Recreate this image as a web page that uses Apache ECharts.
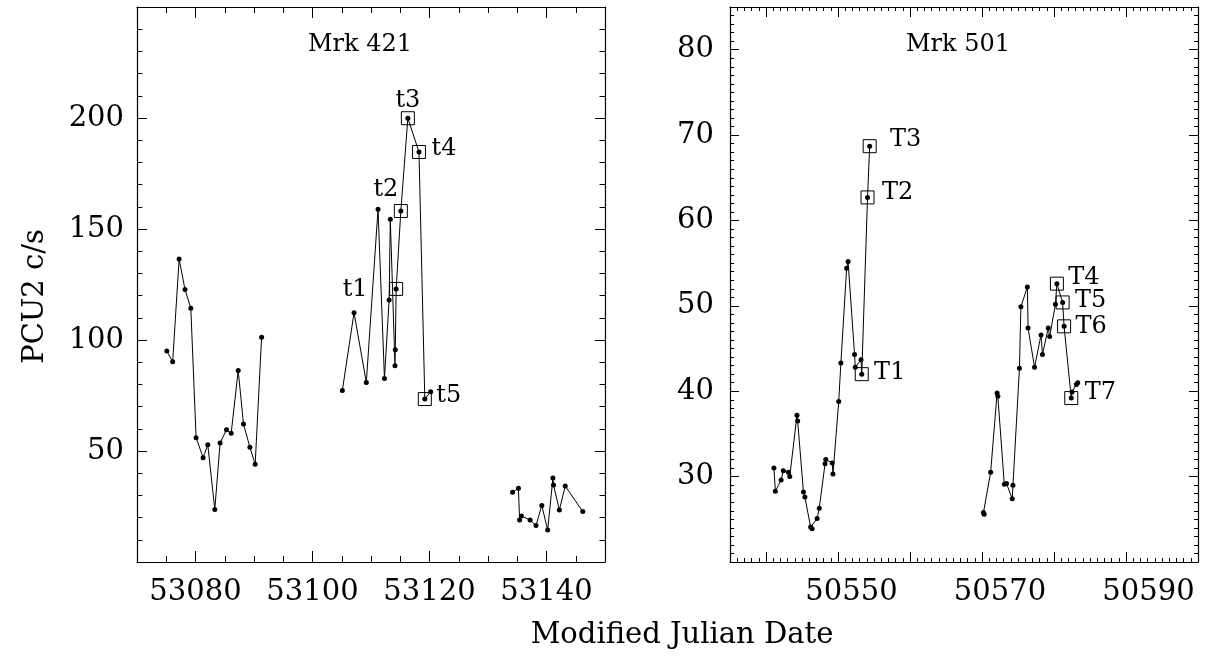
<!DOCTYPE html>
<html>
<head>
<meta charset="utf-8">
<script src="https://cdn.jsdelivr.net/npm/echarts@6/dist/echarts.min.js"></script>
<style>
  html, body { margin: 0; background: #fff; }
  #chart { width: 1205px; height: 656px; }
</style>
</head>
<body>
<div id="chart"></div>
<script>
// Mrk 421 light curve, three observing blocks (MJD, PCU2 c/s)
const mrk421MjdA = [53075.1, 53076.1, 53077.2, 53078.2, 53079.2, 53080.1, 53081.3, 53082.1, 53083.3, 53084.2, 53085.3, 53086.1, 53087.3, 53088.2, 53089.3, 53090.2, 53091.3];
const mrk421RateA = [95.0, 90.2, 136.5, 122.8, 114.3, 56.0, 47.0, 52.8, 23.6, 53.6, 59.6, 58.0, 86.3, 62.2, 51.7, 44.0, 101.2];
const mrk421MjdB = [53105.1, 53107.1, 53109.2, 53111.2, 53112.3, 53113.1, 53113.3, 53114.1, 53114.15, 53114.3, 53115.1, 53116.3, 53118.2, 53119.2, 53120.2];
const mrk421RateB = [77.2, 112.3, 80.9, 158.9, 82.7, 118.0, 154.4, 88.4, 95.6, 123.0, 158.1, 199.9, 184.7, 73.4, 76.7];
const mrk421MjdC = [53134.2, 53135.2, 53135.4, 53135.7, 53137.2, 53138.2, 53139.2, 53140.2, 53141.1, 53141.2, 53142.2, 53143.2, 53146.2];
const mrk421RateC = [31.4, 33.2, 18.9, 20.7, 18.9, 16.4, 25.5, 14.4, 37.8, 34.7, 23.4, 34.2, 22.7];

// marked pointings
const mrk421FlareNames = ['t1', 't2', 't3', 't4', 't5'];
const mrk421FlareMjd = [53114.3, 53115.1, 53116.3, 53118.2, 53119.2];
const mrk421FlareRate = [123.0, 158.1, 199.9, 184.7, 73.4];

// Mrk 501 light curve, two blocks
const mrk501MjdA = [50541.1, 50541.3, 50542.1, 50542.4, 50543.1, 50543.3, 50544.3, 50544.4, 50545.2, 50545.4, 50546.2, 50546.4, 50547.1, 50547.4, 50548.2, 50548.3, 50549.2, 50549.3, 50550.1, 50550.4, 50551.2, 50551.4, 50552.3, 50552.4, 50553.2, 50553.3, 50554.1, 50554.4];
const mrk501RateA = [31.0, 28.3, 29.6, 30.7, 30.5, 30.0, 37.2, 36.5, 28.2, 27.6, 24.1, 23.9, 25.1, 26.3, 31.5, 32.0, 31.6, 30.3, 38.8, 43.3, 54.4, 55.2, 44.3, 42.8, 43.7, 42.0, 62.7, 68.7];
const mrk501MjdB = [50570.2, 50570.3, 50571.2, 50572.1, 50572.2, 50573.1, 50573.4, 50574.2, 50574.3, 50575.2, 50575.4, 50576.3, 50576.4, 50577.3, 50578.2, 50578.4, 50579.2, 50579.4, 50580.2, 50580.4, 50581.2, 50581.4, 50582.4, 50582.5, 50583.1, 50583.3];
const mrk501RateB = [25.8, 25.6, 30.5, 39.8, 39.4, 29.1, 29.2, 27.4, 29.0, 42.7, 49.9, 52.2, 47.4, 42.8, 46.6, 44.3, 47.4, 46.4, 50.2, 52.6, 50.4, 47.6, 39.2, 39.9, 40.8, 41.0];

const mrk501FlareNames = ['T1', 'T2', 'T3', 'T4', 'T5', 'T6', 'T7'];
const mrk501FlareMjd = [50553.3, 50554.1, 50554.4, 50580.4, 50581.2, 50581.4, 50582.4];
const mrk501FlareRate = [42.0, 62.7, 68.7, 52.6, 50.4, 47.6, 39.2];

// axis ranges and ticks
const mrk421XRange = [53070, 53150];
const mrk421YRange = [0, 250];
const mrk421XMajor = [53080, 53100, 53120, 53140];
const mrk421YMajor = [50, 100, 150, 200];
const mrk501XRange = [50535, 50600];
const mrk501YRange = [20, 85];
const mrk501XMajor = [50540, 50550, 50560, 50570, 50580, 50590];
const mrk501YMajor = [30, 40, 50, 60, 70, 80];
const mrk501XLabels = [50550, 50570, 50590];

const FONT = 'DejaVu Serif';
const INK = '#000';

const chart = echarts.init(document.getElementById('chart'));

function zip(xs, ys) {
  return xs.map((x, i) => [x, ys[i]]);
}

// one side of the box frame: either majors (custom values) or evenly spaced minors
function sideAxis(gridIndex, position, range, ticks, len, withLine) {
  const custom = Array.isArray(ticks);
  return {
    type: 'value',
    gridIndex,
    position,
    min: range[0],
    max: range[1],
    interval: custom ? undefined : ticks,
    axisLine: { show: withLine, onZero: false, lineStyle: { color: INK, width: 1.2 } },
    axisTick: custom
      ? { show: true, inside: true, length: len, customValues: ticks, lineStyle: { color: INK, width: 1 } }
      : { show: true, inside: true, length: len, lineStyle: { color: INK, width: 1 } },
    axisLabel: { show: false },
    splitLine: { show: false }
  };
}

function labelStyle(values, margin) {
  return {
    show: true,
    customValues: values,
    margin,
    formatter: v => String(v),
    fontFamily: FONT,
    fontSize: 29,
    color: INK
  };
}

const xAxes = [
  sideAxis(0, 'bottom', mrk421XRange, mrk421XMajor, 11, true),
  sideAxis(0, 'bottom', mrk421XRange, 5, 6, false),
  sideAxis(0, 'top', mrk421XRange, mrk421XMajor, 11, true),
  sideAxis(0, 'top', mrk421XRange, 5, 6, false),
  sideAxis(1, 'bottom', mrk501XRange, mrk501XMajor, 10, true),
  sideAxis(1, 'bottom', mrk501XRange, 1, 4, false),
  sideAxis(1, 'top', mrk501XRange, mrk501XMajor, 10, true),
  sideAxis(1, 'top', mrk501XRange, 1, 4, false),
  // Mrk 501 date labels sit a little right of their ticks in the original
  {
    type: 'value', gridIndex: 1, position: 'bottom', min: 50533.64, max: 50596.67,
    axisLine: { show: false, onZero: false }, axisTick: { show: false },
    splitLine: { show: false },
    axisLabel: labelStyle(mrk501XLabels, 16)
  }
];
xAxes[0].axisLabel = labelStyle(mrk421XMajor, 16);

const yAxes = [
  sideAxis(0, 'left', mrk421YRange, mrk421YMajor, 10, true),
  sideAxis(0, 'left', mrk421YRange, 10, 5.5, false),
  sideAxis(0, 'right', mrk421YRange, mrk421YMajor, 10, true),
  sideAxis(0, 'right', mrk421YRange, 10, 5.5, false),
  sideAxis(1, 'left', mrk501YRange, mrk501YMajor, 9, true),
  sideAxis(1, 'left', mrk501YRange, 1, 4, false),
  sideAxis(1, 'right', mrk501YRange, mrk501YMajor, 9, true),
  sideAxis(1, 'right', mrk501YRange, 1, 4, false)
];
yAxes[0].axisLabel = labelStyle(mrk421YMajor, 13);
yAxes[0].name = 'PCU2 c/s';
yAxes[0].nameLocation = 'middle';
yAxes[0].nameGap = 87;
yAxes[0].nameRotate = 90;
yAxes[0].nameTextStyle = { fontFamily: FONT, fontSize: 29, color: INK, padding: [0, 24, 0, 0] };
yAxes[4].axisLabel = labelStyle(mrk501YMajor, 16);

function curve(xs, ys, gridIndex) {
  return {
    type: 'line',
    xAxisIndex: gridIndex * 4,
    yAxisIndex: gridIndex * 4,
    data: zip(xs, ys),
    symbol: 'circle',
    symbolSize: 5,
    itemStyle: { color: INK },
    lineStyle: { color: INK, width: 1 },
    z: 2
  };
}

function flareBoxes(names, xs, ys, shifts, gridIndex) {
  return {
    type: 'scatter',
    xAxisIndex: gridIndex * 4,
    yAxisIndex: gridIndex * 4,
    symbol: 'rect',
    symbolSize: 13,
    itemStyle: { color: 'rgba(0,0,0,0)', borderColor: INK, borderWidth: 1, opacity: 1 },
    label: {
      show: true, position: 'inside', formatter: '{b}',
      fontFamily: FONT, fontSize: 24, color: INK, textBorderWidth: 0
    },
    data: names.map((n, i) => ({ name: n, value: [xs[i], ys[i]], label: { offset: shifts[i] } })),
    z: 3
  };
}

// label offsets in px from each box (layout only)
const mrk421LabelShift = [[-41, 1], [-15, -21], [0, -17], [25, -3], [24, -3]];
const mrk501LabelShift = [[28, -1], [30, -5], [36, -6], [27, -6], [28, -2], [27, 0], [29, -5]];

chart.setOption({
  animation: false,
  backgroundColor: '#fff',
  grid: [
    { left: 137, top: 7, width: 468, height: 555, outerBoundsMode: 'none' },
    { left: 730, top: 7, width: 468, height: 555, outerBoundsMode: 'none' }
  ],
  xAxis: xAxes,
  yAxis: yAxes,
  graphic: [
    { type: 'text', style: { text: 'Mrk 421', x: 360, y: 45, align: 'center', verticalAlign: 'middle', font: '24px "DejaVu Serif"', fill: INK } },
    { type: 'text', style: { text: 'Mrk 501', x: 958, y: 45, align: 'center', verticalAlign: 'middle', font: '24px "DejaVu Serif"', fill: INK } },
    { type: 'text', style: { text: 'Modified Julian Date', x: 682, y: 635, align: 'center', verticalAlign: 'middle', font: '29px "DejaVu Serif"', fill: INK } }
  ],
  series: [
    curve(mrk421MjdA, mrk421RateA, 0),
    curve(mrk421MjdB, mrk421RateB, 0),
    curve(mrk421MjdC, mrk421RateC, 0),
    flareBoxes(mrk421FlareNames, mrk421FlareMjd, mrk421FlareRate, mrk421LabelShift, 0),
    curve(mrk501MjdA, mrk501RateA, 1),
    curve(mrk501MjdB, mrk501RateB, 1),
    flareBoxes(mrk501FlareNames, mrk501FlareMjd, mrk501FlareRate, mrk501LabelShift, 1)
  ]
});
</script>
</body>
</html>
